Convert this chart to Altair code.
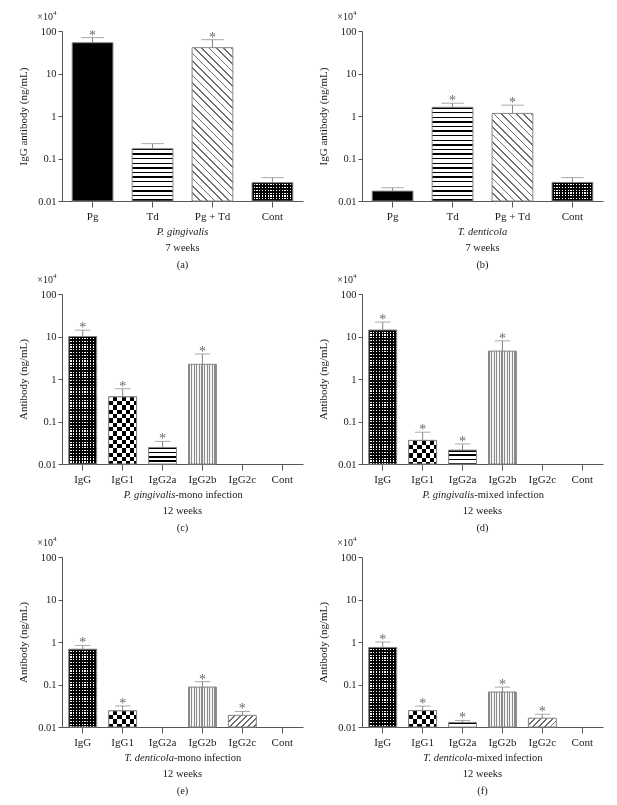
import math
import altair as alt
import pandas as pd

# ---------------- data ----------------
cats4 = ["Pg", "Td", "Pg + Td", "Cont"]
cats6 = ["IgG", "IgG1", "IgG2a", "IgG2b", "IgG2c", "Cont"]

a_mean = [53.0, 0.17, 40.5, 0.027]
a_upper = [70.0, 0.224, 62.5, 0.0355]
a_star = [1, 0, 1, 0]

b_mean = [0.0171, 1.6, 1.15, 0.0274]
b_upper = [0.0205, 2.0, 1.8, 0.0355]
b_star = [0, 1, 1, 0]

c_mean = [10.0, 0.38, 0.0245, 2.22, None, None]
c_upper = [14.1, 0.59, 0.034, 3.88, None, None]
c_star = [1, 1, 1, 1, 0, 0]

d_mean = [14.2, 0.036, 0.0212, 4.53, None, None]
d_upper = [21.9, 0.056, 0.0297, 7.9, None, None]
d_star = [1, 1, 1, 1, 0, 0]

e_mean = [0.676, 0.024, None, 0.087, 0.0188, None]
e_upper = [0.83, 0.0313, None, 0.1166, 0.0232, None]
e_star = [1, 1, 0, 1, 1, 0]

f_mean = [0.746, 0.0243, 0.0128, 0.0665, 0.0161, None]
f_upper = [1.0, 0.031, 0.01426, 0.0868, 0.02, None]
f_star = [1, 1, 1, 1, 1, 0]

y_ticks = [0.01, 0.1, 1, 10, 100]
y_lo, y_hi = 0.01, 100

# ---------------- style ----------------
W, H = 241, 170
FONT = "Liberation Serif"
AX = "#555555"
TXT = "#1a1a1a"
EDGE = "#858585"
STAR = "#6a6a6a"

pat4 = {"Pg": "solid", "Td": "hlines", "Pg + Td": "diag_back", "Cont": "dots"}
pat6 = {"IgG": "dots", "IgG1": "check", "IgG2a": "hlines2", "IgG2b": "vlines",
        "IgG2c": "diag_fwd", "Cont": "solid"}

ROMAN = {' ': 250, '.': 250, '-': 333, 'a': 444, 'b': 500, 'c': 444, 'd': 500, 'e': 444,
         'f': 333, 'g': 500, 'h': 500, 'i': 278, 'k': 500, 'l': 278, 'm': 778, 'n': 500,
         'o': 500, 'r': 333, 's': 389, 't': 278, 'u': 500, 'v': 500, 'x': 500, 'P': 556, 'T': 611}
ITALIC = {' ': 250, '.': 250, 'a': 500, 'c': 444, 'd': 500, 'e': 444, 'g': 500, 'i': 278,
          'l': 278, 'n': 500, 'o': 500, 's': 389, 't': 278, 'v': 444, 'P': 611, 'T': 556}


def text_w(s, table, size):
    return sum(table.get(ch, 500) for ch in s) * size / 1000.0


def stripes(length, period, on_frac, on, off):
    p = period / max(length, 1.0)
    out = []
    k = 0
    while k * p < 1:
        s = k * p
        m = min(s + p * on_frac, 1.0)
        e = min(s + p, 1.0)
        out += [{"offset": round(s, 5), "color": on}, {"offset": round(m, 5), "color": on}]
        if m < 1:
            out += [{"offset": round(m, 5), "color": off}, {"offset": round(e, 5), "color": off}]
        k += 1
    return out


def grad(x1, y1, x2, y2, stops):
    return {"gradient": "linear", "x1": x1, "y1": y1, "x2": x2, "y2": y2, "stops": stops}


def diag(w, h, period, on_frac, on, off, forward):
    r = h / w
    k = (1 + r) / (1 + r * r)
    L = (w + h) / math.sqrt(2)
    st = stripes(L, period, on_frac, on, off)
    if forward:   # "/" lines
        return grad(0, 0, round(k, 5), round(k * r, 5), st)
    return grad(0, 1, round(k, 5), round(1 - k * r, 5), st)   # "\" lines


def bar_h(v):
    return H * (math.log10(v) - math.log10(y_lo)) / (math.log10(y_hi) - math.log10(y_lo))


def pattern_layers(src, enc, pattern, w, h):
    clear = "rgba(0,0,0,0)"
    if pattern == "solid":
        return [src.mark_bar(fill="#000000", strokeWidth=0).encode(**enc)]
    if pattern == "hlines":
        g = grad(0, 0, 0, 1, stripes(h, 4.6, 0.33, "#000000", "#ffffff"))
        return [src.mark_bar(fill=g, strokeWidth=0).encode(**enc)]
    if pattern == "hlines2":
        g = grad(0, 0, 0, 1, stripes(h, 4.3, 0.35, "#000000", "#ffffff"))
        return [src.mark_bar(fill=g, strokeWidth=0).encode(**enc)]
    if pattern == "vlines":
        g = grad(0, 0, 1, 0, stripes(w, 2.6, 0.4, "#8a8a8a", "#f4f4f4"))
        return [src.mark_bar(fill=g, strokeWidth=0).encode(**enc)]
    if pattern == "diag_back":
        g = diag(w, h, 5.2, 0.22, "#6e6e6e", "#ffffff", False)
        return [src.mark_bar(fill=g, strokeWidth=0).encode(**enc)]
    if pattern == "diag_fwd":
        g = diag(w, h, 4.2, 0.28, "#6e6e6e", "#ffffff", True)
        return [src.mark_bar(fill=g, strokeWidth=0).encode(**enc)]
    if pattern == "dots":
        g1 = grad(0, 0, 0, 1, stripes(h, 2.8, 0.55, "#000000", "#ffffff"))
        g2 = grad(0, 0, 1, 0, stripes(w, 2.8, 0.55, "#000000", clear))
        return [src.mark_bar(fill=g1, strokeWidth=0).encode(**enc),
                src.mark_bar(fill=g2, strokeWidth=0).encode(**enc)]
    if pattern == "check":
        g1 = grad(0, 0, 0, 1, stripes(h, 8.6, 0.5, "#000000", "#ffffff"))
        g2 = grad(0, 0, 1, 0, stripes(w, 8.6, 0.5, "#ffffff", "#000000"))
        return [src.mark_bar(fill=g1, strokeWidth=0).encode(**enc),
                src.mark_bar(fill=g2, strokeWidth=0, blend="difference").encode(**enc)]
    return []


def panel(letter, cats, mean, upper, star, ytitle, ital, normal, weeks, pats, pin, pout):
    n = len(cats)
    df = pd.DataFrame({"cat": cats, "val": mean, "hi": upper, "star": star,
                       "base": [y_lo] * n})
    step = W / (n - pin + 2 * pout)
    bw = step * (1 - pin)
    capw = bw * 0.55

    xsc = alt.Scale(domain=cats, paddingInner=pin, paddingOuter=pout)
    ysc = alt.Scale(type="log", domain=[y_lo, y_hi])
    xax = alt.Axis(grid=False, labelAngle=0, domainColor=AX, tickColor=AX, tickSize=6,
                   labelPadding=3, labelFont=FONT, labelFontSize=11, labelColor=TXT)
    yax = alt.Axis(values=y_ticks, format="~g", grid=False, domainColor=AX, tickColor=AX,
                   tickSize=4, labelPadding=2, labelFont=FONT, labelFontSize=10.5,
                   labelColor=TXT, titleFont=FONT, titleFontSize=11, titleFontWeight="normal",
                   titleColor=TXT, titlePadding=9)
    X = alt.X("cat:N", scale=xsc, axis=xax, title=None, sort=cats)
    Y = alt.Y("val:Q", scale=ysc, axis=yax, title=ytitle)
    enc = dict(x=X, y=Y, y2=alt.Y2("base:Q"))

    layers = []
    for i, c in enumerate(cats):
        if mean[i] is None:
            continue
        src = alt.Chart(df).transform_filter(alt.datum.cat == c)
        layers += pattern_layers(src, enc, pats[c], bw, bar_h(mean[i]))

    valid = alt.Chart(df).transform_filter("isValid(datum.val)")
    layers.append(valid.mark_bar(fill="#ffffff", fillOpacity=0, stroke=EDGE,
                                 strokeWidth=1).encode(**enc))
    layers.append(valid.mark_rule(color=EDGE, strokeWidth=1).encode(
        x=X, y=Y, y2=alt.Y2("hi:Q")))
    layers.append(valid.mark_tick(orient="horizontal", size=capw, thickness=1, color=EDGE)
                  .encode(x=X, y=alt.Y("hi:Q", scale=ysc, axis=yax, title=ytitle)))
    layers.append(alt.Chart(df).transform_filter("datum.star == 1")
                  .mark_text(text="*", font=FONT, fontSize=14, color=STAR,
                             baseline="alphabetic", dy=2)
                  .encode(x=X, y=alt.Y("hi:Q", scale=ysc, axis=yax, title=ytitle)))

    # annotation texts
    def txt(s, x, y, size=10.5, style="normal", align="center"):
        return (alt.Chart(pd.DataFrame({"t": [s]}))
                .mark_text(font=FONT, fontSize=size, fontStyle=style, color=TXT,
                           align=align, baseline="middle")
                .encode(text="t:N", x=alt.value(x), y=alt.value(y)))

    cx = W / 2
    if normal:
        wi = text_w(ital, ITALIC, 10.5)
        wn = text_w(normal, ROMAN, 10.5)
        split = cx + (wi - wn) / 2
        layers.append(txt(ital, split, H + 31, style="italic", align="right"))
        layers.append(txt(normal, split, H + 31, align="left"))
    else:
        layers.append(txt(ital, cx, H + 31, style="italic"))
    layers.append(txt(weeks, cx, H + 47))
    layers.append(txt(letter, cx, H + 64))
    layers.append(txt("×10", -9, -14, size=10, align="right"))
    layers.append(txt("4", -9, -18, size=7, align="left"))

    return alt.layer(*layers).properties(width=W, height=H)


pa = panel("(a)", cats4, a_mean, a_upper, a_star, "IgG antibody (ng/mL)",
           "P. gingivalis", "", "7 weeks", pat4, 0.32, 0.17)
pb = panel("(b)", cats4, b_mean, b_upper, b_star, "IgG antibody (ng/mL)",
           "T. denticola", "", "7 weeks", pat4, 0.32, 0.17)
pc = panel("(c)", cats6, c_mean, c_upper, c_star, "Antibody (ng/mL)",
           "P. gingivalis", "-mono infection", "12 weeks", pat6, 0.3, 0.17)
pd_ = panel("(d)", cats6, d_mean, d_upper, d_star, "Antibody (ng/mL)",
            "P. gingivalis", "-mixed infection", "12 weeks", pat6, 0.3, 0.17)
pe = panel("(e)", cats6, e_mean, e_upper, e_star, "Antibody (ng/mL)",
           "T. denticola", "-mono infection", "12 weeks", pat6, 0.3, 0.17)
pf = panel("(f)", cats6, f_mean, f_upper, f_star, "Antibody (ng/mL)",
           "T. denticola", "-mixed infection", "12 weeks", pat6, 0.3, 0.17)

chart = (alt.vconcat(alt.hconcat(pa, pb, spacing=13),
                     alt.hconcat(pc, pd_, spacing=13),
                     alt.hconcat(pe, pf, spacing=13),
                     spacing=0)
         .properties(padding={"left": 9, "top": 0, "right": 0, "bottom": 0})
         .configure_view(stroke="transparent"))

chart.save("out.html", embed_options={"renderer": "svg", "actions": False})
